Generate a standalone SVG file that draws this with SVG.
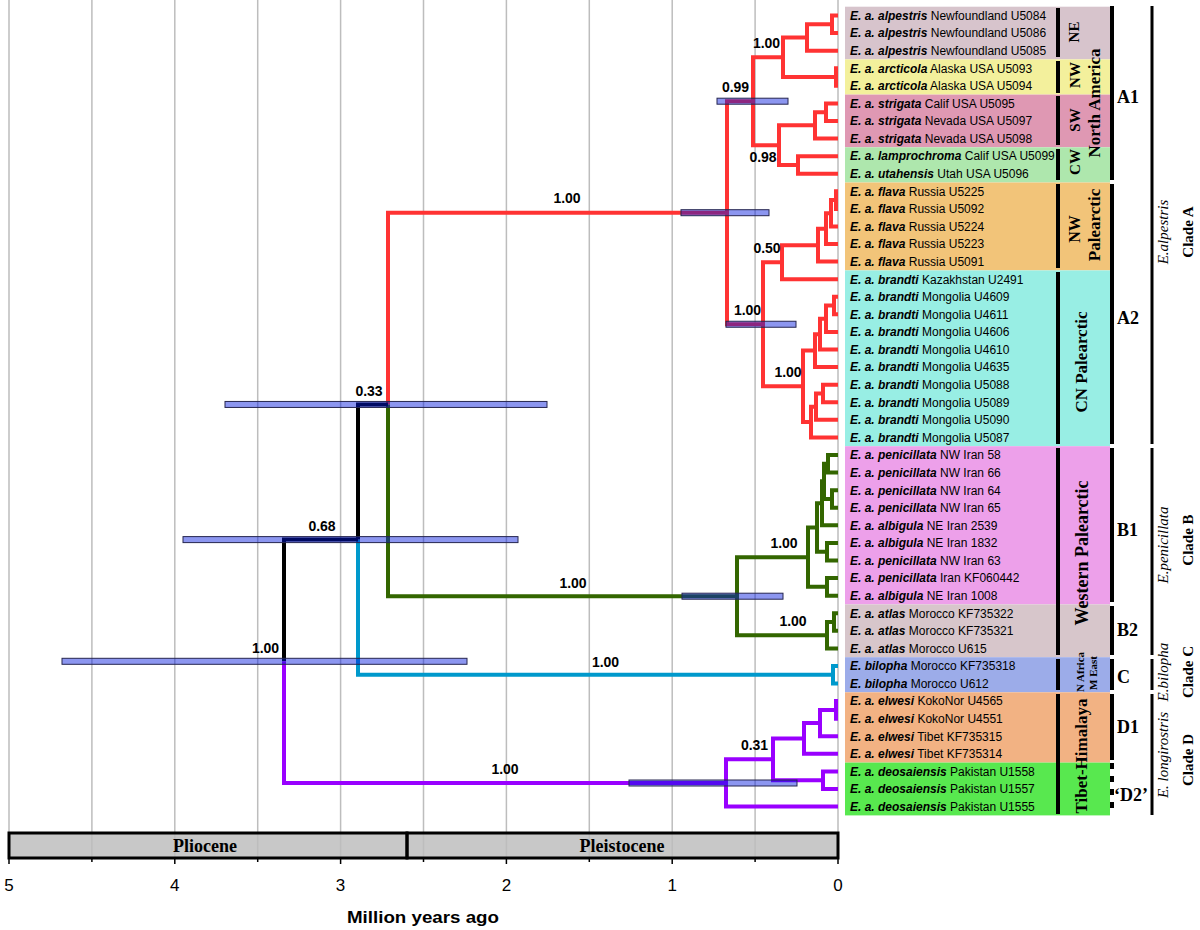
<svg xmlns="http://www.w3.org/2000/svg" width="1200" height="930" viewBox="0 0 1200 930">
<style>
.grid{stroke:#bdbdbd;stroke-width:1.5}
.t{fill:none;stroke-width:4;stroke-linejoin:miter}
.r{stroke:#ff3333}.g{stroke:#336600}.c{stroke:#0099cc}.p{stroke:#9900ff}.k{stroke:#000}
.hpd{fill:rgb(0,22,222);fill-opacity:0.45;stroke:#262650;stroke-width:1}
.sup{font-family:"Liberation Sans",Arial,sans-serif;font-size:14px;font-weight:bold;text-anchor:middle;fill:#000}
.tx{font-family:"Liberation Sans",Arial,sans-serif;font-size:12px;fill:#000}
.bi{font-weight:bold;font-style:italic}
.reg{font-family:"Liberation Serif","Times New Roman",serif;font-weight:bold;text-anchor:middle;fill:#000}
.cl{font-family:"Liberation Serif","Times New Roman",serif;font-weight:bold;font-size:18px;fill:#000}
.sp{font-family:"Liberation Serif","Times New Roman",serif;font-style:italic;font-size:15px;text-anchor:middle;fill:#000}
.cd{font-family:"Liberation Serif","Times New Roman",serif;font-weight:bold;font-size:15px;text-anchor:middle;fill:#000}
.bar{stroke:#000;stroke-width:4}
.obar{stroke:#000;stroke-width:3}
.rbar{stroke:#000;stroke-width:4}
.ax{font-family:"Liberation Sans",Arial,sans-serif;font-size:17px;text-anchor:middle;fill:#000}
</style>

<g id="grid">
<rect x="9" y="833" width="829" height="25" fill="#c8c8c8"/>
<line class="grid" x1="9" y1="0" x2="9" y2="858"/>
<line class="grid" x1="91.9" y1="0" x2="91.9" y2="858"/>
<line class="grid" x1="174.8" y1="0" x2="174.8" y2="858"/>
<line class="grid" x1="257.7" y1="0" x2="257.7" y2="858"/>
<line class="grid" x1="340.6" y1="0" x2="340.6" y2="858"/>
<line class="grid" x1="423.5" y1="0" x2="423.5" y2="858"/>
<line class="grid" x1="506.4" y1="0" x2="506.4" y2="858"/>
<line class="grid" x1="589.3" y1="0" x2="589.3" y2="858"/>
<line class="grid" x1="672.2" y1="0" x2="672.2" y2="858"/>
<line class="grid" x1="755.1" y1="0" x2="755.1" y2="858"/>
<line class="grid" x1="838" y1="0" x2="838" y2="858"/>
</g>

<g id="epochs">
<rect x="9" y="833" width="398" height="25" fill="none" stroke="#000" stroke-width="3"/>
<rect x="407" y="833" width="431" height="25" fill="none" stroke="#000" stroke-width="3"/>
<text x="205" y="852" class="reg" font-size="18">Pliocene</text>
<text x="622" y="852" class="reg" font-size="18">Pleistocene</text>
<g stroke="#000" stroke-width="1.5">
<line x1="9" y1="858" x2="9" y2="864"/><line x1="91.9" y1="858" x2="91.9" y2="862"/>
<line x1="174.8" y1="858" x2="174.8" y2="864"/><line x1="257.7" y1="858" x2="257.7" y2="862"/>
<line x1="340.6" y1="858" x2="340.6" y2="864"/><line x1="423.5" y1="858" x2="423.5" y2="862"/>
<line x1="506.4" y1="858" x2="506.4" y2="864"/><line x1="589.3" y1="858" x2="589.3" y2="862"/>
<line x1="672.2" y1="858" x2="672.2" y2="864"/><line x1="755.1" y1="858" x2="755.1" y2="862"/>
<line x1="838" y1="858" x2="838" y2="864"/>
</g>
<text class="ax" x="9" y="891">5</text>
<text class="ax" x="174.8" y="891">4</text>
<text class="ax" x="340.6" y="891">3</text>
<text class="ax" x="506.4" y="891">2</text>
<text class="ax" x="672.2" y="891">1</text>
<text class="ax" x="838" y="891">0</text>
<text class="ax" x="423" y="923" font-weight="bold" font-size="18" textLength="152" lengthAdjust="spacingAndGlyphs">Million years ago</text>
</g>

<g id="connectors">
<g class="t r">
<path d="M838 15.5H832V33.08H838"/>
<path d="M832 24.29H807V50.66H838"/>
<path d="M838 68.24H836V85.82H838"/>
<path d="M807 37.48H783V77.03H836"/>
<path d="M838 103.4H826V120.98H838"/>
<path d="M826 112.19H815V138.56H838"/>
<path d="M838 156.14H798V173.72H838"/>
<path d="M815 125.37H779V164.93H798"/>
<path d="M783 57.25H753V145.15H779"/>
<path d="M838 191.3H836V208.88H838"/>
<path d="M836 200.09H831V226.46H838"/>
<path d="M831 213.27H826V244.04H838"/>
<path d="M826 228.66H818V261.62H838"/>
<path d="M818 245.14H782V279.2H838"/>
<path d="M838 296.78H834V314.36H838"/>
<path d="M834 305.57H826V331.94H838"/>
<path d="M826 318.75H820V349.52H838"/>
<path d="M820 334.14H815V367.1H838"/>
<path d="M838 384.68H823V402.26H838"/>
<path d="M823 393.47H816V419.84H838"/>
<path d="M816 406.65H811V437.42H838"/>
<path d="M815 350.62H803V422.03H811"/>
<path d="M782 262.17H763V386.33H803"/>
<path d="M753 101.2H727V324.25H763"/>
<path d="M727 212.7H388V404.45"/>
</g>
<g class="t g">
<path d="M838 455H828V472.58H838"/>
<path d="M838 490.16H832V507.74H838"/>
<path d="M828 463.79H824V498.95H832"/>
<path d="M824 481.37H822V525.32H838"/>
<path d="M838 542.9H827V560.48H838"/>
<path d="M822 503.35H817V551.69H827"/>
<path d="M838 578.06H827V595.64H838"/>
<path d="M817 527.52H808V586.85H827"/>
<path d="M838 613.22H834V630.8H838"/>
<path d="M834 622.01H827V648.38H838"/>
<path d="M808 557.19H737V635.2H827"/>
<path d="M388 404.45V596.2H737"/>
</g>
<g class="t c">
<path d="M838 665.96H833V683.54H838"/>
<path d="M358 539.6V674.75H833"/>
</g>
<g class="t k">
<path d="M388 404.45H358V539.6"/>
<path d="M358 539.6H284V661.3"/>
</g>
<g class="t p">
<path d="M284 661.3V782.97H726"/>
<path d="M838 701.12H836V718.7H838"/>
<path d="M836 709.91H820V736.28H838"/>
<path d="M820 723.1H804V753.86H838"/>
<path d="M838 771.44H823V789.02H838"/>
<path d="M804 738.48H773V780.23H823"/>
<path d="M773 759.36H726V806.6H838"/>
</g>
</g>

<g id="hpd-bars">
<rect class="hpd" x="717" y="98.2" width="71" height="6"/>
<rect class="hpd" x="681" y="209.7" width="88" height="6"/>
<rect class="hpd" x="726" y="321.25" width="70" height="6"/>
<rect class="hpd" x="225" y="401.45" width="322" height="6"/>
<rect class="hpd" x="183" y="536.6" width="335" height="6"/>
<rect class="hpd" x="682" y="593.2" width="101" height="6"/>
<rect class="hpd" x="62" y="658.3" width="405" height="6"/>
<rect class="hpd" x="629" y="780" width="168" height="6"/>
</g>

<g id="support-labels">
<text class="sup" x="567" y="203">1.00</text>
<text class="sup" x="735.5" y="92">0.99</text>
<text class="sup" x="766.5" y="48">1.00</text>
<text class="sup" x="763" y="162">0.98</text>
<text class="sup" x="747.5" y="315">1.00</text>
<text class="sup" x="767" y="253">0.50</text>
<text class="sup" x="788" y="377">1.00</text>
<text class="sup" x="369" y="396">0.33</text>
<text class="sup" x="322" y="531">0.68</text>
<text class="sup" x="265.5" y="653">1.00</text>
<text class="sup" x="573" y="588">1.00</text>
<text class="sup" x="784" y="548">1.00</text>
<text class="sup" x="793" y="626">1.00</text>
<text class="sup" x="605.5" y="667">1.00</text>
<text class="sup" x="505" y="774">1.00</text>
<text class="sup" x="754.5" y="750">0.31</text>
</g>

<g id="band-NE">
<rect x="845" y="6.7" width="265" height="52.7" fill="#d7c4cc"/>
<text class="tx" x="850" y="19.8"><tspan class="bi">E. a. alpestris</tspan> Newfoundland U5084</text>
<text class="tx" x="850" y="37.4"><tspan class="bi">E. a. alpestris</tspan> Newfoundland U5086</text>
<text class="tx" x="850" y="55"><tspan class="bi">E. a. alpestris</tspan> Newfoundland U5085</text>
</g>
<g id="band-NW">
<rect x="845" y="59.4" width="265" height="35.2" fill="#f3f09c"/>
<text class="tx" x="850" y="72.5"><tspan class="bi">E. a. arcticola</tspan> Alaska USA U5093</text>
<text class="tx" x="850" y="90.1"><tspan class="bi">E. a. arcticola</tspan> Alaska USA U5094</text>
</g>
<g id="band-SW">
<rect x="845" y="94.6" width="265" height="52.7" fill="#df98b3"/>
<text class="tx" x="850" y="107.7"><tspan class="bi">E. a. strigata</tspan> Calif USA U5095</text>
<text class="tx" x="850" y="125.3"><tspan class="bi">E. a. strigata</tspan> Nevada USA U5097</text>
<text class="tx" x="850" y="142.9"><tspan class="bi">E. a. strigata</tspan> Nevada USA U5098</text>
</g>
<g id="band-CW">
<rect x="845" y="147.3" width="265" height="35.2" fill="#aee7ad"/>
<text class="tx" x="850" y="160.4"><tspan class="bi">E. a. lamprochroma</tspan> Calif USA U5099</text>
<text class="tx" x="850" y="178"><tspan class="bi">E. a. utahensis</tspan> Utah USA U5096</text>
</g>
<g id="band-NW-Palearctic">
<rect x="845" y="182.5" width="265" height="87.9" fill="#f2c479"/>
<text class="tx" x="850" y="195.6"><tspan class="bi">E. a. flava</tspan> Russia U5225</text>
<text class="tx" x="850" y="213.2"><tspan class="bi">E. a. flava</tspan> Russia U5092</text>
<text class="tx" x="850" y="230.8"><tspan class="bi">E. a. flava</tspan> Russia U5224</text>
<text class="tx" x="850" y="248.3"><tspan class="bi">E. a. flava</tspan> Russia U5223</text>
<text class="tx" x="850" y="265.9"><tspan class="bi">E. a. flava</tspan> Russia U5091</text>
</g>
<g id="band-CN-Palearctic">
<rect x="845" y="270.4" width="265" height="175.8" fill="#98eee4"/>
<text class="tx" x="850" y="283.5"><tspan class="bi">E. a. brandti</tspan> Kazakhstan U2491</text>
<text class="tx" x="850" y="301.1"><tspan class="bi">E. a. brandti</tspan> Mongolia U4609</text>
<text class="tx" x="850" y="318.7"><tspan class="bi">E. a. brandti</tspan> Mongolia U4611</text>
<text class="tx" x="850" y="336.2"><tspan class="bi">E. a. brandti</tspan> Mongolia U4606</text>
<text class="tx" x="850" y="353.8"><tspan class="bi">E. a. brandti</tspan> Mongolia U4610</text>
<text class="tx" x="850" y="371.4"><tspan class="bi">E. a. brandti</tspan> Mongolia U4635</text>
<text class="tx" x="850" y="389"><tspan class="bi">E. a. brandti</tspan> Mongolia U5088</text>
<text class="tx" x="850" y="406.6"><tspan class="bi">E. a. brandti</tspan> Mongolia U5089</text>
<text class="tx" x="850" y="424.1"><tspan class="bi">E. a. brandti</tspan> Mongolia U5090</text>
<text class="tx" x="850" y="441.7"><tspan class="bi">E. a. brandti</tspan> Mongolia U5087</text>
</g>
<g id="band-B1">
<rect x="845" y="446.2" width="265" height="158.2" fill="#eda0ea"/>
<text class="tx" x="850" y="459.3"><tspan class="bi">E. a. penicillata</tspan> NW Iran 58</text>
<text class="tx" x="850" y="476.9"><tspan class="bi">E. a. penicillata</tspan> NW Iran 66</text>
<text class="tx" x="850" y="494.5"><tspan class="bi">E. a. penicillata</tspan> NW Iran 64</text>
<text class="tx" x="850" y="512"><tspan class="bi">E. a. penicillata</tspan> NW Iran 65</text>
<text class="tx" x="850" y="529.6"><tspan class="bi">E. a. albigula</tspan> NE Iran 2539</text>
<text class="tx" x="850" y="547.2"><tspan class="bi">E. a. albigula</tspan> NE Iran 1832</text>
<text class="tx" x="850" y="564.8"><tspan class="bi">E. a. penicillata</tspan> NW Iran 63</text>
<text class="tx" x="850" y="582.4"><tspan class="bi">E. a. penicillata</tspan> Iran KF060442</text>
<text class="tx" x="850" y="599.9"><tspan class="bi">E. a. albigula</tspan> NE Iran 1008</text>
</g>
<g id="band-B2">
<rect x="845" y="604.4" width="265" height="52.8" fill="#d7c6cb"/>
<text class="tx" x="850" y="617.5"><tspan class="bi">E. a. atlas</tspan> Morocco KF735322</text>
<text class="tx" x="850" y="635.1"><tspan class="bi">E. a. atlas</tspan> Morocco KF735321</text>
<text class="tx" x="850" y="652.7"><tspan class="bi">E. a. atlas</tspan> Morocco U615</text>
</g>
<g id="band-C">
<rect x="845" y="657.2" width="265" height="35.1" fill="#9cace9"/>
<text class="tx" x="850" y="670.3"><tspan class="bi">E. bilopha</tspan> Morocco KF735318</text>
<text class="tx" x="850" y="687.8"><tspan class="bi">E. bilopha</tspan> Morocco U612</text>
</g>
<g id="band-D1">
<rect x="845" y="692.3" width="265" height="70.3" fill="#f2b283"/>
<text class="tx" x="850" y="705.4"><tspan class="bi">E. a. elwesi</tspan> KokoNor U4565</text>
<text class="tx" x="850" y="723"><tspan class="bi">E. a. elwesi</tspan> KokoNor U4551</text>
<text class="tx" x="850" y="740.6"><tspan class="bi">E. a. elwesi</tspan> Tibet KF735315</text>
<text class="tx" x="850" y="758.2"><tspan class="bi">E. a. elwesi</tspan> Tibet KF735314</text>
</g>
<g id="band-D2">
<rect x="845" y="762.6" width="265" height="52.8" fill="#58e84f"/>
<text class="tx" x="850" y="775.7"><tspan class="bi">E. a. deosaiensis</tspan> Pakistan U1558</text>
<text class="tx" x="850" y="793.3"><tspan class="bi">E. a. deosaiensis</tspan> Pakistan U1557</text>
<text class="tx" x="850" y="810.9"><tspan class="bi">E. a. deosaiensis</tspan> Pakistan U1555</text>
</g>

<g id="region-bars">
<line class="rbar" x1="1058" y1="8" x2="1058" y2="57"/>
<line class="rbar" x1="1058" y1="61" x2="1058" y2="93"/>
<line class="rbar" x1="1058" y1="96" x2="1058" y2="145"/>
<line class="rbar" x1="1058" y1="149" x2="1058" y2="180"/>
<line class="rbar" x1="1058" y1="184" x2="1058" y2="268"/>
<line class="rbar" x1="1058" y1="272" x2="1058" y2="444"/>
<line class="rbar" x1="1058" y1="448" x2="1058" y2="655"/>
<line class="rbar" x1="1058" y1="659" x2="1058" y2="690"/>
<line class="rbar" x1="1058" y1="694" x2="1058" y2="814"/>
</g>
<g id="region-labels">
<text class="reg" font-size="15" transform="translate(1079,32) rotate(-90)">NE</text>
<text class="reg" font-size="15" transform="translate(1080,75) rotate(-90)">NW</text>
<text class="reg" font-size="15" transform="translate(1080,120) rotate(-90)">SW</text>
<text class="reg" font-size="15" transform="translate(1080,162) rotate(-90)">CW</text>
<text class="reg" font-size="17" transform="translate(1100,103) rotate(-90)">North America</text>
<text class="reg" font-size="16" transform="translate(1080,229) rotate(-90)">NW</text>
<text class="reg" font-size="17" transform="translate(1100,225) rotate(-90)">Palearctic</text>
<text class="reg" font-size="17" transform="translate(1087,362) rotate(-90)">CN Palearctic</text>
<text class="reg" font-size="18" transform="translate(1088,553) rotate(-90)">Western Palearctic</text>
<text class="reg" font-size="11" transform="translate(1084,672) rotate(-90)">N Africa</text>
<text class="reg" font-size="11" transform="translate(1097,673) rotate(-90)">M East</text>
<text class="reg" font-size="17" transform="translate(1087,756) rotate(-90)">Tibet-Himalaya</text>
</g>

<g id="clade-bars">
<line class="bar" x1="1112" y1="6" x2="1112" y2="180"/>
<line class="bar" x1="1112" y1="184" x2="1112" y2="444"/>
<line class="bar" x1="1112" y1="448" x2="1112" y2="602"/>
<line class="bar" x1="1112" y1="606" x2="1112" y2="655"/>
<line class="bar" x1="1112" y1="659" x2="1112" y2="690"/>
<line class="bar" x1="1112" y1="694" x2="1112" y2="760"/>
<line class="bar" x1="1112" y1="763" x2="1112" y2="815" stroke-dasharray="6 7" stroke-width="5"/>
<text class="cl" x="1117" y="103">A1</text>
<text class="cl" x="1117" y="324">A2</text>
<text class="cl" x="1117" y="536">B1</text>
<text class="cl" x="1117" y="636">B2</text>
<text class="cl" x="1117" y="683">C</text>
<text class="cl" x="1117" y="733">D1</text>
<text class="cl" x="1114" y="801">‘D2’</text>
</g>

<g id="species-bars">
<line class="obar" x1="1152" y1="6" x2="1152" y2="444"/>
<line class="obar" x1="1152" y1="448" x2="1152" y2="655"/>
<line class="obar" x1="1152" y1="659" x2="1152" y2="690"/>
<line class="obar" x1="1152" y1="694" x2="1152" y2="815"/>
<text class="sp" transform="translate(1168,232) rotate(-90)">E.alpestris</text>
<text class="sp" transform="translate(1168,545) rotate(-90)">E.penicillata</text>
<text class="sp" transform="translate(1168,672) rotate(-90)">E.bilopha</text>
<text class="sp" transform="translate(1168,755) rotate(-90)">E. longirostris</text>
<text class="cd" transform="translate(1193,232) rotate(-90)">Clade A</text>
<text class="cd" transform="translate(1193,540) rotate(-90)">Clade B</text>
<text class="cd" transform="translate(1193,672) rotate(-90)">Clade C</text>
<text class="cd" transform="translate(1193,760) rotate(-90)">Clade D</text>
</g>
</svg>
